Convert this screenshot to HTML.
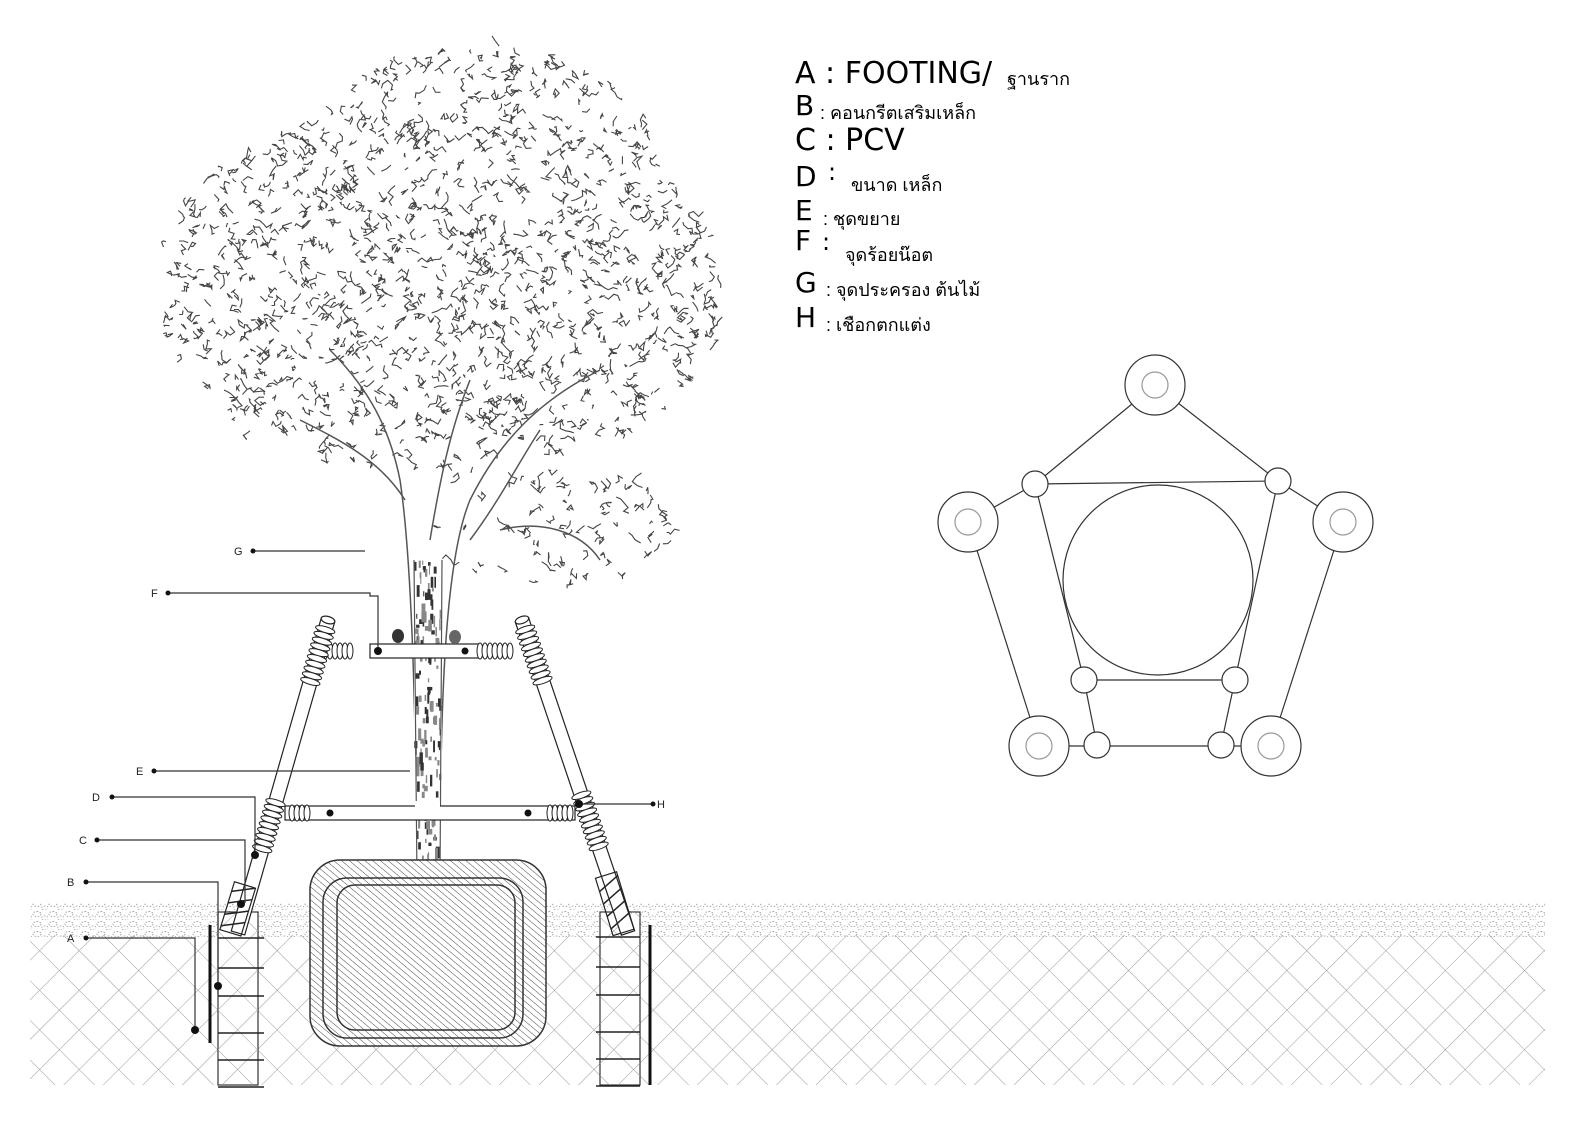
<!DOCTYPE html>
<html><head><meta charset="utf-8">
<style>
html,body{margin:0;padding:0;background:#fff;}
svg{display:block;}
.lg{font-family:"DejaVu Sans","Liberation Sans",sans-serif;fill:#000;}
.th{font-family:"Liberation Sans","Noto Sans CJK SC","DejaVu Sans",sans-serif;fill:#000;}
.lb{font-family:"Liberation Sans",sans-serif;font-size:11px;fill:#222;}
</style></head>
<body>
<svg id="s" width="1587" height="1122" viewBox="0 0 1587 1122" xmlns="http://www.w3.org/2000/svg">
<defs>
<pattern id="xh" width="28" height="28" patternUnits="userSpaceOnUse" patternTransform="rotate(45)">
<line x1="0" y1="0" x2="28" y2="0" stroke="#9a9a9a" stroke-width="1"/>
<line x1="0" y1="0" x2="0" y2="28" stroke="#9a9a9a" stroke-width="1"/>
</pattern>
<pattern id="dh" width="5" height="5" patternUnits="userSpaceOnUse" patternTransform="rotate(-50)">
<line x1="0" y1="0" x2="0" y2="5" stroke="#333" stroke-width="0.9"/>
</pattern>
<pattern id="gr" width="16" height="10" patternUnits="userSpaceOnUse">
<ellipse cx="5" cy="4" rx="4" ry="2.5" fill="none" stroke="#999" stroke-width="0.9" stroke-dasharray="1.5 1.5"/>
<ellipse cx="13" cy="8" rx="3.5" ry="2" fill="none" stroke="#aaa" stroke-width="0.9" stroke-dasharray="1.5 1.5"/>
</pattern>
</defs>
<rect width="1587" height="1122" fill="#fff"/>

<!-- ground -->
<rect x="30" y="935" width="1515" height="150" fill="url(#xh)"/>
<rect x="30" y="903" width="1515" height="34" fill="url(#gr)"/>

<g id="tree"></g>

<!-- root ball -->
<rect x="310" y="860" width="236" height="186" rx="30" fill="#fff" stroke="#333" stroke-width="1.5"/>
<rect x="310" y="860" width="236" height="186" rx="30" fill="url(#dh)"/>
<rect x="323" y="878" width="200" height="160" rx="24" fill="none" stroke="#333" stroke-width="1.5"/>
<rect x="337" y="885" width="178" height="145" rx="18" fill="none" stroke="#333" stroke-width="1.5"/>

<!-- footings -->
<rect x="218" y="912" width="40" height="173" fill="#fff" stroke="#333" stroke-width="1.2"/>
<rect x="218" y="912" width="40" height="173" fill="url(#xh)"/>
<g stroke="#222" stroke-width="1.5">
<line x1="218" y1="938" x2="264" y2="938"/><line x1="218" y1="968" x2="264" y2="968"/>
<line x1="218" y1="996" x2="264" y2="996"/><line x1="218" y1="1033" x2="264" y2="1033"/>
<line x1="218" y1="1060" x2="264" y2="1060"/><line x1="218" y1="1087" x2="264" y2="1087"/>
</g>
<line x1="210" y1="925" x2="210" y2="1043" stroke="#111" stroke-width="3"/>
<rect x="600" y="912" width="40" height="173" fill="#fff" stroke="#333" stroke-width="1.2"/>
<rect x="600" y="912" width="40" height="173" fill="url(#xh)"/>
<g stroke="#222" stroke-width="1.5">
<line x1="596" y1="937" x2="640" y2="937"/><line x1="596" y1="967" x2="640" y2="967"/>
<line x1="596" y1="995" x2="640" y2="995"/><line x1="596" y1="1032" x2="640" y2="1032"/>
<line x1="596" y1="1059" x2="640" y2="1059"/><line x1="596" y1="1086" x2="640" y2="1086"/>
</g>
<line x1="650" y1="925" x2="650" y2="1085" stroke="#111" stroke-width="3"/>

<g id="struts"></g>

<!-- labels -->
<g stroke="#333" stroke-width="1.2" fill="none">
<polyline points="253,551 365,551"/>
<polyline points="168,593 370,593 370,596 378,596 378,651"/>
<polyline points="154,771 410,771"/>
<polyline points="112,797 255,797 255,855"/>
<polyline points="97,840 245,840 245,903"/>
<polyline points="86,882 218,882 218,995"/>
<polyline points="86,938 195,938 195,1030"/>
<polyline points="580,804 653,804"/>
</g>
<g fill="#111">
<circle cx="253" cy="551" r="2.5"/><circle cx="168" cy="593" r="2.5"/><circle cx="154" cy="771" r="2.5"/>
<circle cx="112" cy="797" r="2.5"/><circle cx="97" cy="840" r="2.5"/><circle cx="86" cy="882" r="2.5"/>
<circle cx="86" cy="938" r="2.5"/><circle cx="653" cy="804" r="2.5"/>
<circle cx="255" cy="855" r="4"/><circle cx="241" cy="904" r="4"/><circle cx="218" cy="986" r="4"/>
<circle cx="195" cy="1030" r="4"/><circle cx="579" cy="804" r="4"/><circle cx="378" cy="651" r="4"/>
</g>
<text class="lb" x="234" y="555">G</text>
<text class="lb" x="151" y="597">F</text>
<text class="lb" x="136" y="775">E</text>
<text class="lb" x="92" y="801">D</text>
<text class="lb" x="79" y="844">C</text>
<text class="lb" x="67" y="886">B</text>
<text class="lb" x="67" y="942">A</text>
<text class="lb" x="657" y="808">H</text>

<!-- legend -->
<text class="lg" x="795" y="83" font-size="30">A : FOOTING/</text>
<text class="th" x="1007" y="85" font-size="18">ฐานราก</text>
<text class="lg" x="795" y="115" font-size="28">B</text>
<text class="th" x="820" y="119" font-size="18">: คอนกรีตเสริมเหล็ก</text>
<text class="lg" x="795" y="150" font-size="30">C : PCV</text>
<text class="lg" x="795" y="186" font-size="28">D</text>
<text class="lg" x="828" y="180" font-size="24">:</text>
<text class="th" x="851" y="191" font-size="18">ขนาด เหล็ก</text>
<text class="lg" x="795" y="220" font-size="28">E</text>
<text class="th" x="823" y="225" font-size="18">:  ชุดขยาย</text>
<text class="lg" x="795" y="250" font-size="28">F</text>
<text class="lg" x="822" y="250" font-size="24">:</text>
<text class="th" x="845" y="261" font-size="18">จุดร้อยน๊อต</text>
<text class="lg" x="795" y="292" font-size="28">G</text>
<text class="th" x="826" y="296" font-size="18">: จุดประครอง ต้นไม้</text>
<text class="lg" x="795" y="327" font-size="28">H</text>
<text class="th" x="826" y="331" font-size="18">: เชือกตกแต่ง</text>

<!-- plan diagram -->
<g stroke="#333" stroke-width="1.2" fill="none">
<line x1="1155" y1="385" x2="1035" y2="484"/><line x1="1155" y1="385" x2="1278" y2="481"/>
<line x1="1035" y1="484" x2="968" y2="522"/><line x1="1278" y1="481" x2="1343" y2="522"/>
<line x1="1035" y1="484" x2="1278" y2="481"/>
<line x1="1035" y1="484" x2="1084" y2="680"/><line x1="1278" y1="481" x2="1235" y2="680"/>
<line x1="1084" y1="680" x2="1235" y2="680"/>
<line x1="1084" y1="680" x2="1097" y2="745"/><line x1="1235" y1="680" x2="1221" y2="745"/>
<line x1="1039" y1="746" x2="1271" y2="746"/>
<line x1="968" y1="522" x2="1039" y2="746"/><line x1="1343" y1="522" x2="1271" y2="746"/>
</g>
<g stroke="#333" stroke-width="1.2" fill="#fff">
<circle cx="1158" cy="580" r="95"/>
<circle cx="1155" cy="385" r="30"/><circle cx="968" cy="522" r="30"/><circle cx="1343" cy="522" r="30"/>
<circle cx="1039" cy="746" r="30"/><circle cx="1271" cy="746" r="30"/>
<circle cx="1035" cy="484" r="13"/><circle cx="1278" cy="481" r="13"/>
<circle cx="1084" cy="680" r="13"/><circle cx="1235" cy="680" r="13"/>
<circle cx="1097" cy="745" r="13"/><circle cx="1221" cy="745" r="13"/>
</g>
<g stroke="#999" stroke-width="1.2" fill="none">
<circle cx="1155" cy="385" r="13"/><circle cx="968" cy="522" r="13"/><circle cx="1343" cy="522" r="13"/>
<circle cx="1039" cy="746" r="13"/><circle cx="1271" cy="746" r="13"/>
</g>
</svg>
<script>
(function(){
var NS="http://www.w3.org/2000/svg";
var seed=12345;function r(){seed=(seed*16807)%2147483647;return (seed-1)/2147483646;}
function el(p,n,a){var e=document.createElementNS(NS,n);for(var k in a)e.setAttribute(k,a[k]);p.appendChild(e);return e;}
var tree=document.getElementById('tree');
function inside(x,y){
 var a=((x-440)/285)**2+((y-290)/190)**2<1;
 var b=((x-480)/180)**2+((y-170)/125)**2<1;
 var c=((x-290)/110)**2+((y-250)/110)**2<1;
 var d=((x-560)/120)**2+((y-530)/60)**2<1 && y>470;
 return (a||b||c||d) && y<610;
}
var s="";
for(var i=0;i<2300;i++){
 var x=160+r()*565,y=45+r()*560;
 if(!inside(x,y))continue;
 if(y>430 && r()<0.5)continue;
 if(y>470 && x<520 && r()<0.7)continue;
 var p="M"+x.toFixed(1)+" "+y.toFixed(1);
 var n=2+Math.floor(r()*4);
 for(var j=0;j<n;j++){x+=(r()-0.5)*11;y+=(r()-0.5)*11;p+=" L"+x.toFixed(1)+" "+y.toFixed(1);}
 s+=p+" ";
}
el(tree,'path',{d:s,stroke:'#444','stroke-width':1.1,fill:'none'});
var br=[ "M418 880 C415 700 412 560 400 480 C390 430 370 390 330 350",
 "M440 880 C440 700 445 560 470 500 C500 440 540 400 600 370",
 "M470 540 C500 500 520 460 540 430","M405 500 C380 460 340 440 300 420",
 "M430 540 C440 480 450 430 470 380","M500 530 C540 520 580 530 600 560"];
br.forEach(function(d){el(tree,'path',{d:d,stroke:'#555','stroke-width':1.5,fill:'none'});});
el(tree,'rect',{x:414,y:560,width:28,height:320,fill:'#fff'});
for(var k=0;k<140;k++){var tx=414+r()*26,ty=560+r()*318;el(tree,'rect',{x:tx.toFixed(1),y:ty.toFixed(1),width:(1+r()*3).toFixed(1),height:(3+r()*9).toFixed(1),fill:r()<0.5?'#333':'#888'});}
el(tree,'line',{x1:414,y1:560,x2:417,y2:880,stroke:'#555','stroke-width':1.2});
el(tree,'line',{x1:442,y1:560,x2:440,y2:880,stroke:'#555','stroke-width':1.2});

var st=document.getElementById('struts');
function strut(x1,y1,x2,y2,w,coils){
 var dx=x2-x1,dy=y2-y1,L=Math.hypot(dx,dy),ux=dx/L,uy=dy/L,nx=-uy*w/2,ny=ux*w/2;
 el(st,'path',{d:"M"+(x1+nx)+" "+(y1+ny)+" L"+(x2+nx)+" "+(y2+ny)+" L"+(x2-nx)+" "+(y2-ny)+" L"+(x1-nx)+" "+(y1-ny)+" Z",fill:'#fff',stroke:'#222','stroke-width':1.2});
 el(st,'ellipse',{cx:x1,cy:y1,rx:w/2,ry:w/4,transform:"rotate("+(Math.atan2(dy,dx)*180/Math.PI+90)+" "+x1+" "+y1+")",fill:'#fff',stroke:'#222','stroke-width':1.2});
 coils.forEach(function(c){for(var t=c[0];t<c[1];t+=6){var cx=x1+ux*t,cy=y1+uy*t;
  el(st,'ellipse',{cx:cx,cy:cy,rx:w/2+3,ry:3,transform:"rotate("+(Math.atan2(dy,dx)*180/Math.PI+90)+" "+cx+" "+cy+")",fill:'#fff',stroke:'#222','stroke-width':1});}});
}
function hbar(x1,x2,y,h){el(st,'rect',{x:x1,y:y-h/2,width:x2-x1,height:h,fill:'#fff',stroke:'#222','stroke-width':1.2});}
function hcoil(x1,x2,y){for(var x=x1;x<=x2;x+=5)el(st,'ellipse',{cx:x,cy:y,rx:3,ry:8,fill:'#fff',stroke:'#222','stroke-width':1});}
hbar(370,480,651,14);hbar(285,575,813,14);
hcoil(292,310,813);hcoil(550,570,813);hcoil(480,510,651);hcoil(325,350,651);
strut(328,620,238,933,14,[[10,70],[190,240]]);
strut(522,620,628,933,14,[[10,70],[185,240]]);
el(st,'rect',{x:-11,y:0,width:22,height:50,fill:'none',stroke:'#222','stroke-width':1.2,transform:"translate(245,885) rotate(17)"});
el(st,'rect',{x:-11,y:0,width:22,height:60,fill:'none',stroke:'#222','stroke-width':1.2,transform:"translate(606,875) rotate(-17)"});
for(var q=0;q<4;q++){el(st,'line',{x1:-11,y1:10+q*12,x2:11,y2:q*12,stroke:'#222','stroke-width':1.5,transform:"translate(245,885) rotate(17)"});
 el(st,'line',{x1:-11,y1:14+q*13,x2:11,y2:4+q*13,stroke:'#222','stroke-width':1.5,transform:"translate(606,875) rotate(-17)"});}
[[330,813],[528,813],[465,651]].forEach(function(p){el(st,'circle',{cx:p[0],cy:p[1],r:3.5,fill:'#111'});});
el(st,'line',{x1:415,y1:807,x2:440,y2:807,stroke:'#fff','stroke-width':12});
el(st,'ellipse',{cx:398,cy:636,rx:6,ry:7,fill:'#333'});el(st,'ellipse',{cx:455,cy:637,rx:6,ry:7,fill:'#666'});
})();
</script>
</body></html>
